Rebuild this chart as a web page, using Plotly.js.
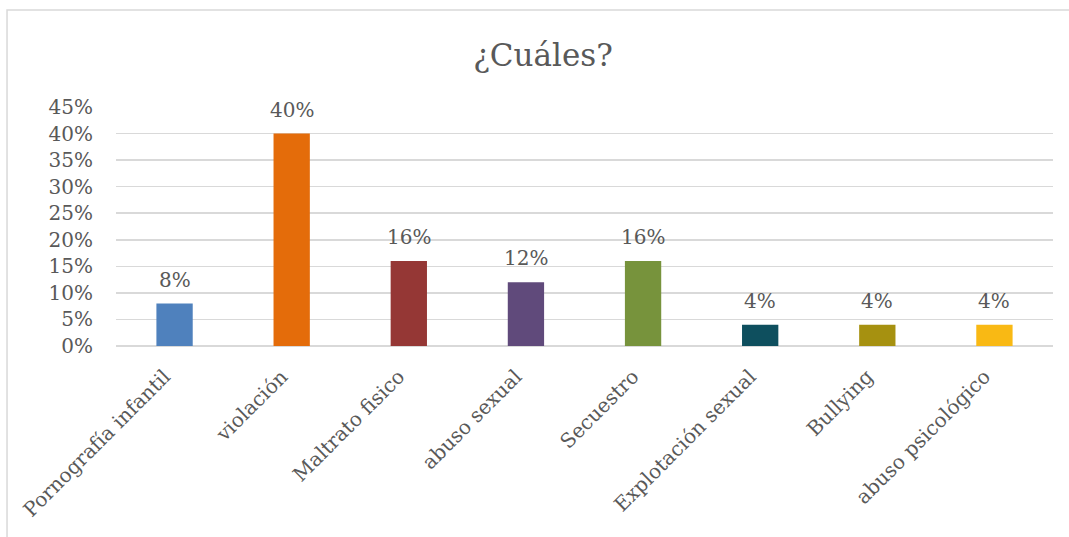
<!DOCTYPE html>
<html>
<head>
<meta charset="utf-8">
<script src="https://cdn.plot.ly/plotly-3.0.1.min.js"></script>
<style>
  body { margin: 0; background: #fff; }
  #chart { width: 1069px; height: 537px; }
</style>
</head>
<body>
<div id="chart"></div>
<script>
// categorias y porcentajes
const categories = ["Pornografía infantil", "violación", "Maltrato fisico", "abuso sexual",
	"Secuestro", "Explotación sexual", "Bullying", "abuso psicológico"];
const values = [0.08, 0.40, 0.16, 0.12, 0.16, 0.04, 0.04, 0.04];
const barColors = ["#4F81BD", "#E46C0A", "#953735", "#604A7B",
	"#77933C", "#0E4F5E", "#A69110", "#F9B914"];
const yTicks = [0, 0.05, 0.10, 0.15, 0.20, 0.25, 0.30, 0.35, 0.40, 0.45];

const font = "DejaVu Serif, serif";
const grey = "#595959";

let trace = {
	type: "bar",
	x: categories,
	y: values,
	marker: { color: barColors },
	hoverinfo: "none"
};

// etiquetas de datos encima de cada barra
let labels = categories.map((c, i) => ({
	x: c,
	y: values[i],
	xref: "x", yref: "y",
	text: Math.round(values[i] * 100) + "%",
	showarrow: false,
	yanchor: "bottom",
	yshift: 10,
	font: { family: font, size: 20, color: grey }
}));

let layout = {
	width: 1069,
	height: 537,
	margin: { l: 116, r: 16, t: 107, b: 191 },
	paper_bgcolor: "#fff",
	plot_bgcolor: "#fff",
	showlegend: false,
	bargap: 0.69,
	font: { family: font, color: grey },
	title: {
		text: "¿Cuáles?",
		font: { family: font, size: 31, color: grey },
		x: 0.508,
		xanchor: "center",
		y: 0.897,
		yanchor: "middle"
	},
	xaxis: {
		tickangle: -45,
		tickfont: { family: font, size: 20, color: grey },
		showgrid: false,
		showline: false,
		ticks: "",
		ticklabelstandoff: 14,
		ticklabelshift: -10,
		fixedrange: true
	},
	yaxis: {
		range: [0, 0.45],
		tickvals: yTicks,
		tickformat: ".0%",
		tickfont: { family: font, size: 20, color: grey },
		gridcolor: "#d9d9d9",
		gridwidth: 1.5,
		zeroline: true,
		zerolinecolor: "#d9d9d9",
		zerolinewidth: 1.5,
		showline: false,
		ticks: "",
		ticklabelstandoff: 22,
		fixedrange: true
	},
	annotations: labels,
	shapes: [{
		// marco del grafico
		type: "rect",
		xref: "paper", yref: "paper",
		x0: -0.1163, x1: 1.03,
		y0: -0.85, y1: 1.406,
		line: { color: "#d9d9d9", width: 1.5 },
		fillcolor: "rgba(0,0,0,0)",
		layer: "below"
	}]
};

Plotly.newPlot("chart", [trace], layout, { displayModeBar: false, staticPlot: true });
</script>
</body>
</html>
